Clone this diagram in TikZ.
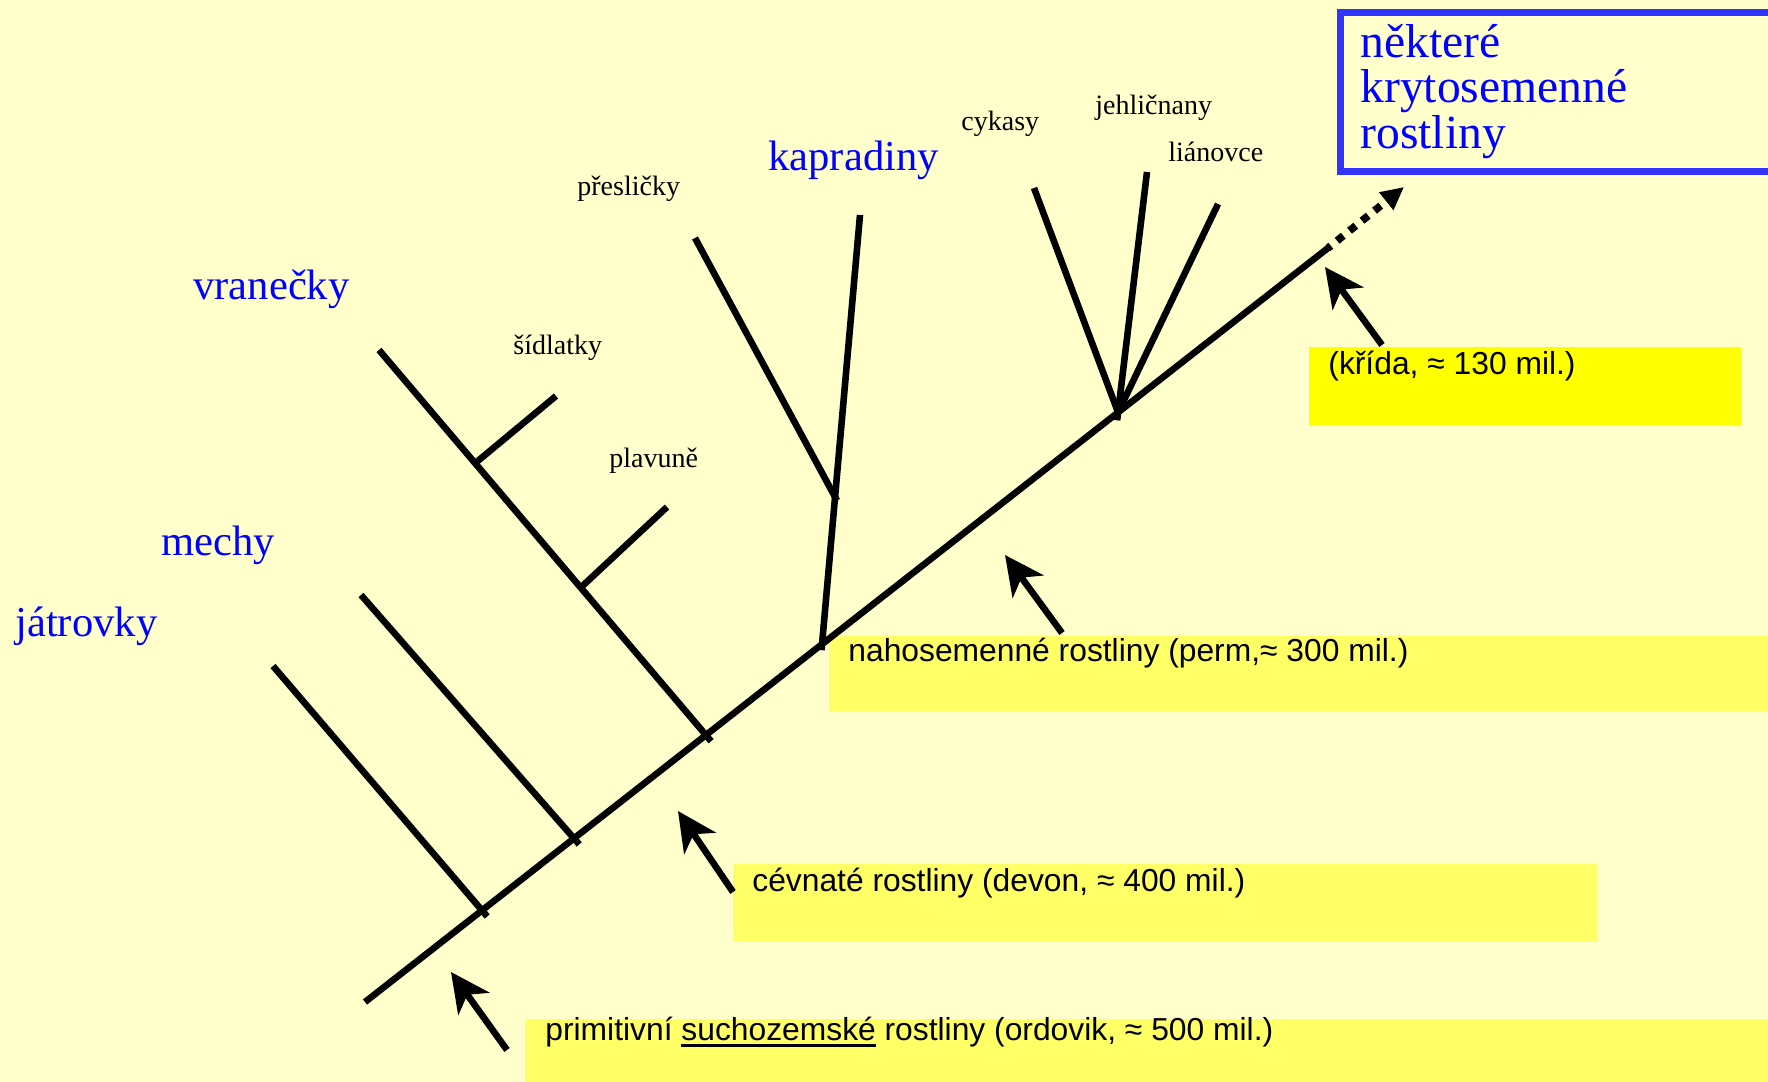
\documentclass[tikz,border=0pt]{standalone}
\usepackage{fontspec}
\setmainfont{Liberation Serif}
\newfontfamily\notefont{Liberation Sans}
\usetikzlibrary{arrows.meta,calc}
\definecolor{paper}{HTML}{FFFFCC}
\definecolor{notefill}{HTML}{FFFF66}
\definecolor{notebright}{HTML}{FFFF00}
\definecolor{groupblue}{HTML}{0000FF}
\definecolor{frameblue}{HTML}{3333FF}
% underline with a fixed depth and thickness
\newcommand\undertext[1]{\setbox0\hbox{#1}\rlap{\rule[-3.3pt]{\wd0}{1.2pt}}#1}

\begin{document}
\begin{tikzpicture}[x=0.5pt,y=-0.5pt,
  branch/.style={line width=3.3pt},
  pointer/.style={line width=3.3pt,-{Stealth[length=19.5pt,width=19pt,inset=5.5pt]}},
  taxon/.style={anchor=base west,inner sep=0pt,font=\fontsize{14pt}{16pt}\selectfont},
  group/.style={anchor=base west,inner sep=0pt,text=groupblue,font=\fontsize{21.3pt}{24pt}\selectfont},
  angio/.style={anchor=base west,inner sep=0pt,text=groupblue,font=\fontsize{23.8pt}{26pt}\selectfont},
  era/.style={anchor=base west,inner sep=0pt,font=\notefont\fontsize{15.9pt}{18pt}\selectfont},
]
% canvas
\fill[paper] (0,0) rectangle (1768,1082);
\useasboundingbox (0,0) rectangle (1768,1082);
\clip (0,0) rectangle (1768,1082);

% highlighted notes
\fill[notebright] (1309,347) rectangle (1741,425);
\fill[notefill] (829,636) rectangle (1768,712);
\fill[notefill] (733,864) rectangle (1597,941);
\fill[notefill] (525,1019) rectangle (1768,1082);

% flowering plants frame
\draw[frameblue,line width=3.5pt] (1340.5,12.5) rectangle (1800,171.5);
\node[angio] (ang1) at (1360,57) {některé};
\node[angio] (ang2) at (1360,102) {krytosemenné};
\node[angio] (ang3) at (1360,148) {rostliny};

% group names
\node[group] (jat) at (15,636) {játrovky};
\node[group] (mech) at (161,555) {mechy};
\node[group] (vran) at (193,299) {vranečky};
\node[group] (kapr) at (768,170) {kapradiny};
\node[taxon] (sid) at (513,354) {šídlatky};
\node[taxon] (plav) at (609,467) {plavuně};
\node[taxon] (pres) at (577,195) {přesličky};
\node[taxon] (cyk) at (961,130) {cykasy};
\node[taxon] (jeh) at (1095,114) {jehličnany};
\node[taxon] (lian) at (1168,161) {liánovce};

% era notes
\node[era] (e1) at (545,1040) {primitivní \undertext{suchozemské} rostliny (ordovik, ≈ 500 mil.)};
\node[era] (e2) at (752,891) {cévnaté rostliny (devon, ≈ 400 mil.)};
\node[era] (e3) at (848,661) {nahosemenné rostliny (perm,≈ 300 mil.)};
\node[era] (e4) at (1328,374) {(křída, ≈ 130 mil.)};

% trunk
\coordinate (root) at (365,1002);
\coordinate (tend) at (1328,248);
\coordinate (tip) at (1404,187);
\coordinate (j1) at ($(root)!0.1215!(tend)$);
\coordinate (j2) at ($(root)!0.217!(tend)$);
\coordinate (j3) at ($(root)!0.354!(tend)$);
\coordinate (j4) at ($(root)!0.4746!(tend)$);
\coordinate (j5) at ($(root)!0.782!(tend)$);

% branch tips
\coordinate (jat0) at (273,666);
\coordinate (mech0) at (361,595);
\coordinate (vran0) at (379,350);
\coordinate (sid0) at (556,396);
\coordinate (plav0) at (667,507);
\coordinate (kapr0) at (860,215);
\coordinate (pres0) at (695,238);
\coordinate (cyk0) at (1034,188);
\coordinate (jeh0) at (1147,172);
\coordinate (lian0) at (1218,204);

% side junctions
\coordinate (sidj) at ($(vran0)!0.294!(j3)$);
\coordinate (plavj) at ($(vran0)!0.617!(j3)$);
\coordinate (presj) at ($(kapr0)!0.657!(j4)$);

\draw[branch] (root) -- (tend);
\draw[line width=3.8pt,dash pattern=on 4pt off 4pt,dash phase=2.2pt,
      -{Triangle[length=11.4pt,width=10.7pt]}] (tend) -- (tip);

\draw[branch] (jat0) -- ($(j1)!-4pt!(jat0)$);
\draw[branch] (mech0) -- ($(j2)!-4pt!(mech0)$);
\draw[branch] (vran0) -- ($(j3)!-4pt!(vran0)$);
\draw[branch] (sid0) -- ($(sidj)!-1.5pt!(sid0)$);
\draw[branch] (plav0) -- ($(plavj)!-1.5pt!(plav0)$);
\draw[branch] (kapr0) -- ($(j4)!-3pt!(kapr0)$);
\draw[branch] (pres0) -- ($(presj)!-2pt!(pres0)$);
\draw[branch] (cyk0) -- (j5);
\draw[branch] (jeh0) -- ($(j5)!-4pt!(jeh0)$);
\draw[branch] (lian0) -- (j5);

% pointers to the notes
\coordinate (p1t) at (507,1050); \coordinate (p1h) at (451,972);
\coordinate (p2t) at (733,892);  \coordinate (p2h) at (678,811);
\coordinate (p3t) at (1062,633); \coordinate (p3h) at (1005,555);
\coordinate (p4t) at (1382,345); \coordinate (p4h) at (1325,267);
\draw[pointer] (p1t) -- (p1h);
\draw[pointer] (p2t) -- (p2h);
\draw[pointer] (p3t) -- (p3h);
\draw[pointer] (p4t) -- (p4h);
\end{tikzpicture}
\end{document}
